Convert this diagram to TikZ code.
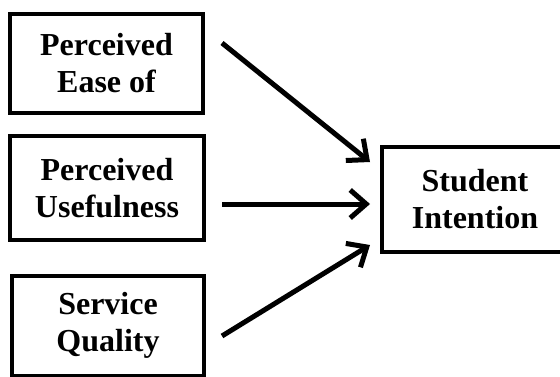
\documentclass[tikz,border=0pt]{standalone}
\usepackage{fontspec}
\setmainfont{Liberation Serif}
\usetikzlibrary{arrows.meta}
\usetikzlibrary{positioning}

\tikzset{
  factor/.style={draw=black, line width=2pt, align=center, inner sep=0pt,
                 font=\bfseries\fontsize{16}{18.5}\selectfont},
  link/.style={-{Straight Barb[length=8pt, width=14pt]}, line width=2.5pt}
}

\begin{document}
\begin{tikzpicture}[x=0.5pt, y=0.5pt]

        \useasboundingbox (0,0) rectangle (560,376);
        \clip (0,0) rectangle (560,376);

        % factors on the left
        \node[factor, minimum width=96.5pt, minimum height=49.5pt] (ease) at (106.5,312.5) {Perceived\\Ease of};
        \node[factor, minimum width=97pt, minimum height=52pt] (useful) at (107,188) {Perceived\\Usefulness};
        \node[factor, minimum width=96pt, minimum height=50pt] (service) at (108,50.5) {Service\\Quality};

        % outcome on the right
        \node[factor, minimum width=93pt, minimum height=52.5pt] (intent) at (475,176.5) {Student\\Intention};

        \coordinate (ease out) at (222,333);
        \coordinate (useful out) at (222,172);
        \coordinate (service out) at (222,40);
        \coordinate (intent in1) at (370,214);
        \coordinate (intent in2) at (370,172);
        \coordinate (intent in3) at (370,131);

        \draw[link] (ease out) -- (intent in1);
        \draw[link] (useful out) -- (intent in2);
        \draw[link] (service out) -- (intent in3);

\end{tikzpicture}
\end{document}
